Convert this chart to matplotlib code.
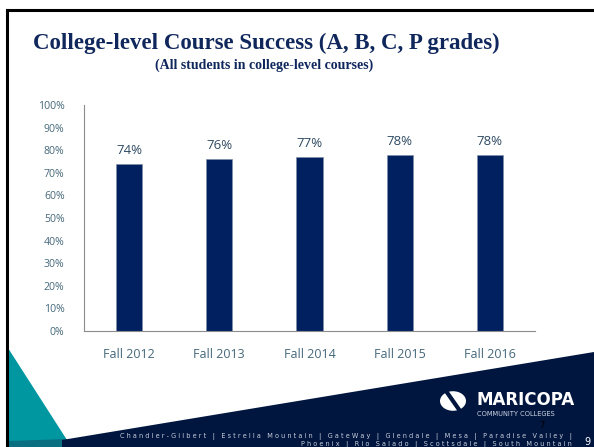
import matplotlib
matplotlib.use('Agg')
import matplotlib.pyplot as plt
from matplotlib.patches import Polygon, Circle
from matplotlib.lines import Line2D
import numpy

categories = ['Fall 2012', 'Fall 2013', 'Fall 2014', 'Fall 2015', 'Fall 2016']
success = [0.74, 0.76, 0.77, 0.78, 0.78]
yticks = [0.0, 0.1, 0.2, 0.3, 0.4, 0.5, 0.6, 0.7, 0.8, 0.9, 1.0]

W, H = 594, 447
NAVY = '#0b1f5c'
TEAL = '#0097a0'
TICK = '#46687a'


def px(x, y):
    # pixel (from top-left) to figure fraction
    return (x / W, 1 - y / H)


figure = plt.figure(figsize=(W / 100, H / 100), dpi=100)

# slide decorations
figure.add_artist(Polygon([px(8, 348), px(67, 440), px(8, 447)], closed=True,
                          transform=figure.transFigure, color=TEAL, lw=0))
figure.add_artist(Polygon([px(8, 441), px(67, 439), px(72, 447), px(8, 447)], closed=True,
                          transform=figure.transFigure, color='#0b6f82', lw=0))
figure.add_artist(Polygon([px(62, 440), px(594, 352), px(594, 447), px(62, 447)], closed=True,
                          transform=figure.transFigure, color='#00163f', lw=0))
figure.add_artist(Line2D([7 / W, 1], [1 - 10 / H] * 2, transform=figure.transFigure,
                         color='black', lw=2.2))
figure.add_artist(Line2D([7 / W] * 2, [1 - 10 / H, 0], transform=figure.transFigure,
                         color='black', lw=2.2))

# title
figure.text(*px(266, 43), 'College-level Course Success (A, B, C, P grades)',
            ha='center', va='center', fontsize=16.5, fontweight='bold',
            family='Liberation Serif', color='#10275c')
figure.text(*px(264, 65), '(All students in college-level courses)',
            ha='center', va='center', fontsize=10, fontweight='bold',
            family='Liberation Serif', color='#10275c')

# chart
ax = figure.add_axes([84 / W, 1 - 331 / H, (535 - 84) / W, (331 - 105) / H])
x = numpy.arange(len(categories))
ax.bar(x, success, width=0.29, color='#002060', edgecolor='#7f8fa8', linewidth=0.5)
for xi, v in zip(x, success):
    ax.text(xi, v + 0.03, '{:.0f}%'.format(v * 100), ha='center', va='bottom',
            fontsize=9.5, color='#2e4a62', family='Open Sans')
ax.set_xlim(-0.5, len(categories) - 0.5)
ax.set_ylim(0, 1)
ax.set_yticks(yticks)
ax.set_yticklabels(['{:.0f}%'.format(t * 100) for t in yticks])
ax.set_xticks(x)
ax.set_xticklabels(categories)
ax.tick_params(axis='y', length=0, pad=14, labelsize=7.6, labelcolor=TICK)
ax.tick_params(axis='x', length=0, pad=12, labelsize=9, labelcolor=TICK)
for lbl in ax.get_xticklabels() + ax.get_yticklabels():
    lbl.set_family('Open Sans')
for s in ['top', 'right']:
    ax.spines[s].set_visible(False)
for s in ['left', 'bottom']:
    ax.spines[s].set_color('#8c8c8c')
    ax.spines[s].set_linewidth(0.8)

# logo
figure.add_artist(Circle(px(453, 401), 13 / W, transform=figure.transFigure,
                         color='white', lw=0))
figure.add_artist(Line2D([446 / W, 460 / W], [1 - 391 / H, 1 - 411 / H],
                         transform=figure.transFigure, color='#00163f', lw=3))
figure.text(*px(476, 400), 'MARICOPA', ha='left', va='center', fontsize=12,
            fontweight='bold', color='white', family='DejaVu Sans')
figure.text(*px(477, 414), 'COMMUNITY COLLEGES', ha='left', va='center', fontsize=4.8,
            color='#d0d6e4', family='DejaVu Sans')
figure.text(*px(542, 425), '7', ha='center', va='center', fontsize=6, color='black')

# footer
line1 = 'Chandler-Gilbert | Estrella Mountain | GateWay | Glendale | Mesa | Paradise Valley |'
line2 = 'Phoenix | Rio Salado | Scottsdale | South Mountain'
figure.text(*px(572, 436), ' '.join(line1), ha='right', va='center', fontsize=4.7,
            color='#c8cfdc', family='DejaVu Sans')
figure.text(*px(572, 444), ' '.join(line2), ha='right', va='center', fontsize=4.7,
            color='#c8cfdc', family='DejaVu Sans')
figure.text(*px(587, 442), '9', ha='center', va='center', fontsize=7, color='white')

figure.savefig('out.png', dpi=100)
